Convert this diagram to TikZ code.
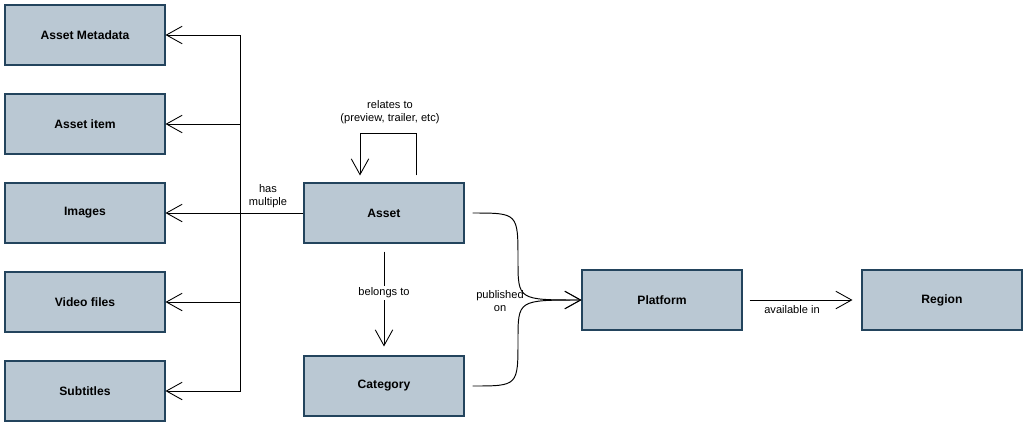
\documentclass[tikz,border=0pt]{standalone}
\usepackage{fontspec}
\setmainfont{Liberation Sans}
\usetikzlibrary{arrows.meta,calc,positioning}
\definecolor{boxfill}{HTML}{BAC8D3}
\definecolor{boxline}{HTML}{23445D}
\tikzset{
  entity/.style={draw=boxline,fill=boxfill,line width=0.6pt,rectangle,minimum width=3.2cm,minimum height=1.2cm,align=center,font=\fontsize{6.9pt}{8pt}\selectfont\bfseries},
  lbl/.style={align=center,inner sep=1pt,font=\fontsize{6.3pt}{7.4pt}\selectfont}
}

\begin{document}
\begin{tikzpicture}[x=0.02cm,y=-0.02cm,>={Straight Barb[length=9pt,width=10pt,line width=0.5pt]},line width=0.55pt]
  \useasboundingbox (0,0) rectangle (1028,427);
  \node[entity] (meta) at (85,35) {Asset Metadata};
  \node[entity] (item) at (85,124) {Asset item};
  \node[entity] (img) at (85,213) {Images};
  \node[entity] (video) at (85,302) {Video files};
  \node[entity] (subs) at (85,391) {Subtitles};
  \node[entity] (asset) at (384,213) {Asset};
  \node[entity] (cat) at (384,386) {Category};
  \node[entity] (plat) at (662,300) {Platform};
  \node[entity] (region) at (942,300) {Region};
  \coordinate (bus) at (240,213);

  % has multiple
  \draw (asset.west) -- (bus);
  \draw[->] (bus) |- (meta.east);
  \draw[->] (bus) |- (item.east);
  \draw[->] (bus) -- (img.east);
  \draw[->] (bus) |- (video.east);
  \draw[->] (bus) |- (subs.east);
  \node[lbl] at (268,196) {has\\multiple};

  % relates to
  \draw[->] ($(asset.north)+(32,-7)$) -- ++(0,-42) -| ($(asset.north)+(-24,-7)$);
  \node[lbl] at (390,112) {relates to\\(preview, trailer, etc)};

  % belongs to
  \draw[->] ($(asset.south)+(0,8)$) -- ($(cat.north)+(0,-9)$);
  \node[lbl,fill=white] at (384,293) {belongs to};

  % published on
  \draw[->] ($(asset.east)+(8,0)$) .. controls (518,213) .. (518,260) .. controls (518,300) .. (plat.west);
  \draw[->] ($(cat.east)+(8,0)$) .. controls (518,386) .. (518,340) .. controls (518,300) .. (plat.west);
  \node[lbl] at (500,301) {published\\on};

  % available in
  \draw[->] ($(plat.east)+(7,0)$) -- ($(region.west)+(-9,0)$);
  \node[lbl] at (792,310) {available in};
\end{tikzpicture}
\end{document}
